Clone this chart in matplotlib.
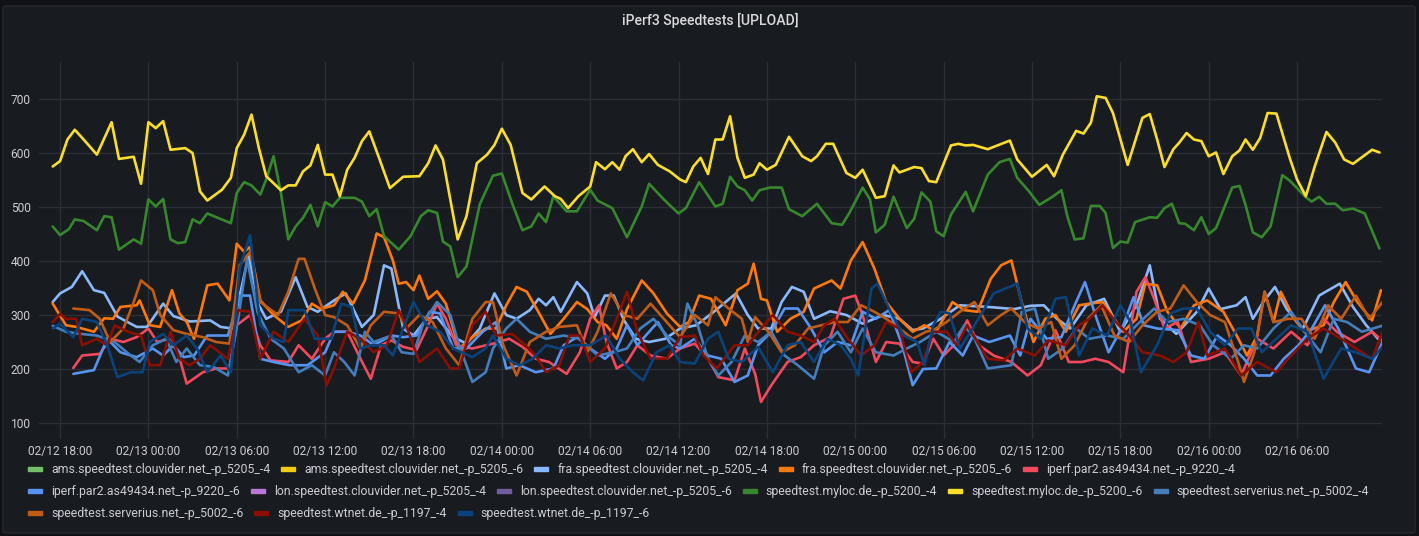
import matplotlib
matplotlib.use("Agg")
import matplotlib.pyplot as plt
import matplotlib.dates as mdates
from matplotlib.patches import Rectangle, FancyBboxPatch
import pandas as pd

W, H = 1419, 536

# hours after 02/12 18:00, upload in Mbit/s
myloc6_h = [-0.5, 0, 0.5, 1, 1.6, 2.5, 3.5, 4, 5, 5.5, 6, 6.5, 7, 7.5, 8.5, 9, 9.5, 10, 11, 11.6,
            12, 12.5, 13, 13.5, 14, 15, 15.5, 16, 16.5, 17, 17.5, 18, 18.5, 19, 19.5, 20, 20.5, 21,
            21.7, 22.4, 23.3, 24.4, 25, 25.5, 26, 27, 27.6, 28.3, 29, 29.5, 30, 30.6, 31.4, 32, 32.9,
            33.6, 34, 34.5, 35.2, 36, 36.4, 37, 37.5, 38, 38.4, 38.9, 39.5, 40, 40.6, 41.4, 42.1, 42.5,
            43, 43.5, 44, 44.5, 45, 45.5, 46, 46.5, 47.1, 47.5, 48, 48.6, 49.5, 50.4, 51, 51.4, 52,
            52.5, 53.4, 54, 54.5, 55.4, 56, 56.6, 57, 58, 58.5, 59, 59.5, 60.5, 61, 61.5, 62, 63, 64.5,
            65, 66, 67, 67.5, 68.1, 69, 69.5, 70, 70.4, 71, 71.5, 72.5, 73.5, 74, 74.5, 75, 75.6, 76,
            76.5, 77, 77.5, 78, 78.5, 79, 79.6, 80.1, 80.5, 81, 81.5, 82, 82.6, 83.5, 84, 84.6, 85.2,
            86, 86.6, 87.2, 87.8, 88.5, 89.1, 89.6]
myloc6_v = [575, 585, 625, 643, 625, 597, 657, 589, 593, 543, 657, 646, 659, 606, 609, 600, 529, 512, 532, 554,
            609, 634, 671, 609, 557, 531, 540, 540, 566, 577, 615, 560, 560, 520, 569, 591, 622, 640,
            588, 535, 556, 557, 581, 614, 588, 440, 483, 581, 597, 615, 645, 615, 526, 514, 538,
            520, 515, 498, 520, 538, 583, 570, 583, 569, 594, 607, 583, 598, 578, 566, 551, 546,
            575, 591, 561, 625, 625, 668, 591, 554, 560, 581, 569, 578, 630, 594, 585, 594, 617,
            617, 563, 554, 569, 517, 520, 577, 564, 574, 572, 548, 546, 614, 617, 614, 615, 607, 623,
            588, 556, 578, 557, 597, 641, 636, 656, 705, 702, 674, 578, 665, 672, 625, 574, 607, 619,
            637, 625, 622, 594, 601, 561, 594, 605, 625, 606, 628, 674, 673, 591, 551, 520, 575,
            639, 619, 588, 580, 594, 606, 601]

myloc4_h = [-0.5, 0, 0.6, 1, 1.6, 2.5, 3, 3.5, 4, 5, 5.5, 6, 6.5, 7, 7.5, 8, 8.5, 9, 9.5, 10, 11.6, 12,
            12.5, 13, 13.6, 14, 14.5, 15, 15.5, 16, 16.5, 17, 17.5, 18, 18.5, 19, 20, 20.5, 21, 21.5,
            22, 23, 23.8, 24.5, 25, 25.6, 26, 26.5, 27, 27.6, 28.5, 29.4, 30, 30.7, 31.4, 32, 32.5,
            33, 33.5, 34.4, 35.1, 36, 36.5, 37.5, 38.5, 39.5, 40, 41, 42, 42.5, 43.4, 44.5, 45, 45.5,
            46, 46.5, 47, 47.5, 48.2, 49, 49.5, 50.4, 51.4, 52.4, 53.1, 53.6, 54.5, 55, 55.4, 56,
            56.6, 57.5, 58, 58.5, 59.1, 59.5, 60, 60.5, 61.5, 62, 63, 63.8, 64.5, 65, 65.8, 66.5,
            67.4, 68, 68.4, 68.9, 69.5, 70, 70.6, 71, 71.5, 72, 72.5, 73, 74, 74.5, 75, 75.5, 76,
            76.4, 77, 77.5, 78, 78.5, 79.6, 80.1, 80.5, 81, 81.6, 82.2, 83, 83.5, 84, 84.6, 85, 85.5,
            86, 86.6, 87.1, 87.8, 88.6, 89.2, 89.6]
myloc4_v = [464, 448, 459, 477, 474, 457, 483, 481, 421, 440, 432, 514, 501, 515, 440, 433, 435, 477, 470, 488, 470, 526,
            546, 540, 523, 551, 594, 526, 440, 464, 480, 504, 464, 509, 501, 517, 517, 510, 483, 496,
            446, 421, 446, 483, 494, 489, 436, 427, 370, 390, 505, 558, 562, 507, 457, 464, 488,
            472, 520, 492, 492, 532, 512, 498, 444, 501, 543, 514, 488, 498, 546, 501, 506, 556,
            538, 531, 512, 531, 536, 536, 496, 483, 506, 470, 467, 489, 536, 514, 453, 467,
            519, 461, 478, 527, 510, 455, 446, 486, 528, 492, 560, 583, 589, 554, 529, 504,
            519, 531, 483, 440, 442, 502, 502, 489, 424, 436, 434, 472, 481, 480, 498, 506, 470,
            469, 457, 481, 450, 461, 536, 539, 504, 453, 444, 464, 559, 549, 535, 518, 510, 519,
            506, 506, 494, 497, 488, 449, 423]

fra4_h = [-0.5, 0, 0.8, 1.5, 2.3, 3, 3.9, 5.2, 5.9, 7, 7.7, 8.8, 10.2, 10.9, 11.7, 12.2, 12.8, 13.5, 14,
          15, 16, 16.8, 17.5, 18.6, 19.4, 20.5, 21.3, 22, 22.5, 23.3, 24, 24.9, 25.6, 26.7, 27.6, 28.5,
          29.5, 30.3, 31, 31.9, 32.5, 33, 33.5, 34, 35.1, 35.8, 36.3, 37, 37.6, 38.3, 39.1, 40, 41.1,
          42.1, 43.2, 44.4, 45.9, 46.7, 47.4, 48.3, 49, 49.7, 50.5, 51.2, 52.3, 53.4, 54.5, 55.9, 57,
          57.9, 58.6, 59.8, 61.1, 63, 64.8, 65.9, 66.8, 67.7, 68.6, 69.7, 70.9, 72, 73.1, 74, 74.7,
          75.8, 77.2, 78, 78.8, 79.9, 80.5, 81, 81.7, 82.5, 83.3, 84.4, 85.5, 86.9, 87.8, 88.7, 89.5]
fra4_v = [324, 340, 352, 381, 346, 341, 297, 278, 278, 321, 298, 288, 290, 278, 275, 336, 410, 318, 293,
          306, 370, 315, 306, 327, 340, 278, 300, 392, 386, 275, 262, 293, 296, 259, 247, 275,
          340, 300, 293, 309, 330, 318, 333, 306, 361, 340, 296, 336, 336, 290, 256, 250, 256,
          275, 281, 306, 340, 300, 275, 275, 324, 352, 343, 293, 307, 300, 284, 300, 293,
          272, 275, 293, 318, 315, 311, 317, 318, 293, 275, 318, 330, 269, 318, 392, 293,
          265, 306, 349, 311, 318, 333, 293, 324, 352, 311, 275, 336, 358, 315, 281, 256]

fra6_h = [-0.5, 0.4, 1.1, 2.3, 3, 3.6, 4.1, 5.2, 5.4, 6.1, 6.8, 7.6, 8.1, 8.6, 9.1, 9.5, 10, 10.7, 11.5,
          12, 12.5, 12.9, 13.6, 14.5, 15.5, 16.4, 17.1, 17.7, 18.6, 19.2, 19.9, 20.7, 21.5, 22, 22.6,
          23, 23.5, 24, 24.4, 25, 25.6, 26.2, 27.1, 28, 28.9, 29.6, 30.3, 31, 31.7, 32.6, 33.3, 34.2,
          35.1, 35.8, 36.5, 37.1, 37.8, 38.5, 39.5, 40.3, 41.2, 42.1, 42.7, 43.4, 44.2, 45.2, 46,
          46.7, 47.1, 47.6, 48, 48.7, 49.6, 50.5, 51.2, 52.4, 53, 53.7, 54.5, 55.3, 56.1, 57, 57.9,
          58.7, 59.5, 60.6, 61.4, 62.3, 63.2, 63.9, 64.6, 65.3, 66.1, 66.9, 67.6, 68.3, 69.2, 69.9,
          70.8, 72.2, 73.1, 73.7, 74.5, 75.2, 76.1, 77, 77.9, 79, 79.9, 80.6, 81.3, 81.8, 82.4, 82.9,
          83.8, 84.5, 85.8, 86.5, 87.3, 88.1, 89.1, 89.7]
fra6_v = [321, 281, 278, 269, 294, 293, 315, 318, 327, 281, 278, 346, 303, 287, 256, 300, 355, 358, 327,
          432, 417, 426, 327, 300, 278, 290, 321, 311, 318, 343, 321, 364, 451, 444, 401,
          358, 361, 346, 373, 330, 344, 321, 238, 259, 275, 275, 318, 352, 343, 300, 265, 293,
          324, 311, 287, 281, 256, 311, 364, 340, 303, 278, 287, 336, 330, 281, 346,
          358, 395, 330, 327, 269, 293, 306, 349, 364, 349, 401, 435, 386, 324, 293, 269,
          281, 269, 324, 309, 306, 367, 392, 401, 324, 250, 293, 300, 269, 318, 321,
          324, 269, 293, 358, 355, 306, 275, 318, 327, 306, 262, 225, 262, 343, 287, 343,
          293, 269, 281, 324, 361, 324, 290, 346]

iperf4_h = [0.9, 1.5, 2.7, 3.4, 4.3, 5.2, 6, 6.6, 7.4, 8, 8.6, 9.7, 10.6, 11.5, 12, 12.9, 13.6, 14.3, 15.5,
            16.2, 17.1, 18, 18.6, 19.5, 20.4, 21.1, 21.8, 22.5, 23.3, 24.2, 24.9, 25.6, 26.2, 26.9, 28,
            29.4, 30.5, 31.4, 32.3, 33.2, 34.4, 35.3, 36, 36.6, 37.1, 37.8, 38.5, 39.2, 40.1, 41.2,
            42.1, 43.1, 44, 44.7, 45.8, 46.5, 47.2, 47.6, 48.3, 49.4, 50.3, 51.2, 52.3, 53.2, 54, 54.5,
            55.4, 56.1, 57, 57.9, 58.6, 59.3, 60, 60.9, 61.6, 62.4, 63.4, 64.6, 65.7, 66.6, 67.6, 68.5,
            69.4, 70.3, 71.2, 72.2, 73.1, 73.7, 74.3, 75, 75.9, 76.8, 78, 79.1, 80.2, 81.3, 82.4, 83.6,
            84.7, 85.8, 86.7, 87.9, 89.1, 89.9]
iperf4_v = [202, 225, 228, 256, 250, 259, 275, 250, 256, 231, 173, 194, 201, 201, 281, 300, 244, 216, 213,
            244, 219, 256, 269, 269, 219, 182, 244, 253, 241, 235, 275, 321, 293, 244, 238,
            247, 256, 241, 219, 213, 191, 231, 293, 318, 250, 201, 213, 244, 225, 219,
            238, 247, 219, 185, 179, 238, 191, 139, 170, 213, 222, 244, 259, 330, 336, 300,
            213, 250, 247, 213, 210, 256, 225, 250, 290, 244, 225, 213, 188, 207, 272, 213,
            213, 219, 213, 194, 343, 370, 330, 275, 287, 213, 219, 231, 188, 256, 238, 269,
            244, 293, 269, 250, 269, 250]

iperf6_h = [0.9, 2.3, 3.2, 4.1, 5.2, 6.3, 7, 7.7, 8.4, 9.1, 10, 11.4, 12.2, 12.9, 13.6, 14.5, 15.6, 16.8,
            18, 18.6, 19.5, 20.4, 21.3, 22.5, 23.3, 24.2, 25.1, 25.8, 26.7, 27.6, 28.7, 29.6, 30.3,
            31.2, 32.3, 33.5, 34.2, 35.1, 36, 37, 37.8, 38.5, 39.2, 40, 40.6, 41.5, 42.1, 43.1, 44,
            44.9, 45.8, 46.7, 47.4, 48.3, 49.2, 50.1, 51, 51.9, 52.8, 53.7, 54.5, 55.4, 56.3, 57.2,
            57.9, 58.6, 59.5, 60.4, 61.3, 62, 63.1, 64.5, 65.2, 65.9, 67, 68, 68.9, 69.6, 70.3, 71.2,
            72.2, 72.9, 73.6, 74.5, 75.9, 76.8, 77.7, 78.6, 79.5, 80.4, 81.3, 82.2, 83.1, 84.1, 85,
            85.9, 86.8, 88, 88.9, 89.9]
iperf6_v = [191, 198, 256, 231, 222, 238, 225, 244, 222, 225, 262, 262, 336, 336, 219, 213, 207, 207,
            231, 269, 269, 262, 244, 262, 259, 262, 306, 303, 238, 238, 269, 287, 201,
            207, 194, 201, 244, 259, 238, 219, 238, 281, 244, 269, 287, 244, 238, 256, 225,
            219, 176, 188, 244, 269, 312, 312, 275, 231, 250, 244, 306, 293, 309, 244,
            170, 200, 201, 250, 225, 262, 250, 262, 225, 293, 256, 259, 318, 361, 300, 231,
            281, 333, 281, 275, 272, 225, 219, 262, 244, 219, 188, 188, 219, 244, 275,
            318, 275, 201, 194, 256]

serv4_h = [-0.5, 0.4, 1.4, 2.5, 3.7, 4.8, 5.4, 6.3, 7.2, 7.9, 8.6, 9.5, 10.4, 11.4, 12.1, 12.7, 13.4, 14.3,
           15.2, 16.2, 17.1, 18, 18.6, 19.3, 20, 20.7, 21.3, 22.5, 23.2, 24, 24.7, 25.6, 26.5, 27.1, 28,
           28.9, 29.4, 30.3, 31, 31.9, 33, 34.2, 35.3, 36.5, 37.6, 38.5, 39.4, 40.3, 41.2, 42.1, 42.6,
           43.3, 44, 44.7, 45.6, 46.5, 47.4, 48.3, 49.2, 50.1, 51.2, 51.9, 52.8, 53.7, 54.5, 55.4,
           56.6, 57.5, 58.4, 59.5, 60.7, 61.4, 62.1, 63, 64.6, 65.3, 66.2, 67.1, 68.1, 69, 69.9, 71.1,
           72.2, 73.1, 74.3, 75.2, 76.3, 77.4, 78.3, 79.5, 80.4, 81.3, 82.4, 83.6, 84.5, 85.6, 86.5,
           87.4, 88.4, 89.9]
serv4_v = [280, 269, 265, 262, 250, 225, 213, 244, 256, 213, 238, 207, 204, 188, 293, 404, 306, 256,
           238, 194, 207, 188, 231, 213, 188, 269, 250, 262, 231, 228, 287, 324, 300, 244, 176,
           194, 238, 275, 293, 269, 256, 262, 256, 225, 231, 238, 275, 293, 262, 244, 321,
           281, 219, 188, 213, 262, 250, 269, 225, 207, 182, 244, 269, 231, 275, 231,
           225, 238, 250, 269, 250, 281, 256, 201, 207, 306, 312, 219, 238, 275, 256, 262,
           256, 281, 312, 287, 293, 281, 244, 219, 244, 238, 275, 306, 269, 231, 293,
           287, 269, 281]

serv6_h = [0.9, 2, 2.7, 3.4, 4.3, 5, 5.5, 6.3, 6.8, 7.7, 8.6, 9.7, 10.6, 11.5, 12.2, 12.9, 13.6, 14.8, 15.5,
           16.2, 16.6, 17.3, 18, 18.6, 19.5, 20.4, 21.1, 22, 23, 23.5, 24.4, 25.3, 26.2, 27.1, 28, 28.9,
           29.4, 30.1, 31, 31.9, 33, 33.9, 35.1, 35.8, 36.5, 37.4, 38.3, 39.2, 40.1, 41, 42.1, 43.1, 44,
           44.5, 45.4, 46.3, 46.7, 47.2, 48.1, 49, 49.9, 50.8, 51.7, 52.6, 53.5, 54.4, 55.3, 56.1, 57,
           57.9, 58.8, 59.3, 60.2, 61.1, 62.1, 63, 63.9, 64.6, 65.5, 66.4, 67.3, 68, 68.9, 69.8, 70.7,
           71.6, 72.6, 73.5, 74.5, 75.4, 76.3, 77.2, 78.1, 79.1, 80, 80.4, 81.1, 81.8, 82.4, 83.4, 84.3,
           85.2, 86.1, 87, 88, 88.9, 89.9]
serv6_v = [312, 309, 293, 250, 275, 324, 364, 346, 300, 272, 265, 259, 250, 247, 392, 417, 324, 300, 343,
           404, 404, 349, 300, 296, 281, 238, 281, 306, 303, 275, 300, 287, 238, 207, 293, 324,
           324, 244, 188, 250, 269, 278, 281, 231, 269, 340, 300, 293, 321, 293, 259, 300, 281,
           333, 312, 293, 250, 296, 269, 231, 244, 275, 281, 287, 287, 318, 306, 293, 275,
           256, 269, 272, 287, 306, 324, 281, 300, 312, 287, 275, 287, 219, 244, 293, 318,
           262, 250, 281, 306, 312, 355, 324, 300, 287, 213, 176, 231, 343, 287, 293, 293,
           256, 318, 293, 336, 293, 327]

wt4_h = [-0.5, 0, 0.4, 1.1, 1.5, 2.5, 3.2, 3.7, 4.6, 5.5, 6.1, 6.8, 7.5, 8.1, 8.8, 9.5, 10.2, 11.4, 12.1,
         12.9, 13.6, 14.5, 15.5, 16.6, 17.5, 18.1, 18.6, 19.5, 20.4, 21.3, 22.2, 23, 23.5, 24.4, 25.6,
         26.5, 27.1, 28, 28.9, 29.6, 30.7, 31.6, 32.3, 33, 33.9, 34.6, 35.3, 36, 37, 37.8, 38.5, 39.2,
         40.1, 41.2, 42.1, 43.1, 43.7, 44.6, 45.8, 46.7, 47.6, 48.4, 49.4, 50.3, 51.2, 51.9, 52.6,
         53.5, 54.4, 55.3, 56.1, 57, 57.8, 58.6, 59.3, 60.2, 60.9, 61.6, 63, 64.1, 65, 66.2, 67.1,
         68.3, 69.2, 69.9, 70.8, 71.7, 72.6, 73.5, 74.7, 75.6, 76.5, 77.3, 77.9, 79.1, 80.2, 81.3,
         82.6, 83.6, 84.7, 85.8, 87, 88, 89.1, 89.9]
wt4_v = [287, 302, 293, 293, 244, 256, 244, 281, 269, 262, 207, 207, 269, 219, 207, 219, 244, 219, 309,
         306, 219, 269, 250, 293, 262, 170, 201, 269, 256, 231, 244, 309, 281, 213, 238,
         201, 201, 281, 306, 262, 265, 244, 225, 194, 207, 262, 262, 213, 238, 293, 343, 269,
         219, 219, 259, 262, 225, 201, 244, 244, 275, 300, 269, 262, 250, 281, 293,
         256, 225, 244, 287, 275, 194, 213, 269, 269, 244, 281, 219, 216, 238, 225, 253,
         244, 281, 293, 318, 287, 262, 231, 225, 213, 231, 287, 225, 238, 188, 213,
         194, 225, 256, 275, 256, 238, 219, 275]

wt6_h = [-0.5, 0, 0.9, 1.5, 2.5, 3.2, 3.9, 4.8, 5.6, 6.1, 7, 7.7, 8.6, 9.3, 10, 10.9, 11.6, 12.2, 12.9,
         13.6, 14.5, 15.2, 15.5, 16.6, 17.3, 18.4, 19.1, 19.8, 20.4, 21.1, 22, 22.6, 23.3, 24, 24.9,
         25.8, 26.7, 28, 28.9, 29.4, 30.3, 31.2, 32.1, 33, 33.9, 34.8, 36, 37.1, 38, 38.9, 39.6, 40.5,
         41.4, 42.1, 43.1, 44, 44.7, 45.4, 46.3, 47.4, 48.4, 49.4, 50.3, 51.2, 52.1, 53, 53.7, 54.2,
         55.1, 55.5, 56.4, 57.3, 58.2, 58.7, 59.3, 59.8, 60.4, 61.1, 62.1, 63.4, 65, 65.7, 66.6, 67.6,
         68.3, 69.2, 70.1, 71.1, 72, 72.7, 73.4, 74.5, 75.4, 76.3, 77.2, 78.1, 79.1, 80, 80.9, 81.6,
         82.6, 83.6, 84.7, 85.8, 87, 88, 89.1, 89.9]
wt6_v = [275, 284, 259, 293, 287, 244, 185, 194, 194, 250, 265, 244, 262, 238, 194, 225, 194, 386, 448,
         281, 256, 250, 309, 309, 256, 256, 321, 315, 238, 244, 244, 225, 275, 324, 281,
         269, 238, 222, 238, 262, 219, 207, 219, 244, 238, 244, 244, 262, 219, 194, 179, 231,
         244, 213, 210, 256, 269, 219, 213, 241, 194, 244, 250, 213, 256, 244, 219, 188,
         349, 358, 306, 262, 250, 207, 281, 306, 303, 238, 281, 340, 358, 275, 256, 330,
         333, 225, 275, 262, 318, 287, 194, 244, 303, 312, 312, 269, 244, 275, 275, 231,
         256, 281, 269, 182, 238, 231, 219, 244]

names = ["ams.speedtest.clouvider.net_-p_5205_-4", "ams.speedtest.clouvider.net_-p_5205_-6",
         "fra.speedtest.clouvider.net_-p_5205_-4", "fra.speedtest.clouvider.net_-p_5205_-6",
         "iperf.par2.as49434.net_-p_9220_-4", "iperf.par2.as49434.net_-p_9220_-6",
         "lon.speedtest.clouvider.net_-p_5205_-4", "lon.speedtest.clouvider.net_-p_5205_-6",
         "speedtest.myloc.de_-p_5200_-4", "speedtest.myloc.de_-p_5200_-6",
         "speedtest.serverius.net_-p_5002_-4", "speedtest.serverius.net_-p_5002_-6",
         "speedtest.wtnet.de_-p_1197_-4", "speedtest.wtnet.de_-p_1197_-6"]
colors = ["#73BF69", "#F2CC0C", "#8AB8FF", "#FF780A", "#F2495C", "#5794F2", "#B877D9",
          "#705DA0", "#37872D", "#FADE2A", "#447EBC", "#C15C17", "#890F02", "#0A437C"]
# ams and lon returned no data in this window
hours = [None, None, fra4_h, fra6_h, iperf4_h, iperf6_h, None, None,
         myloc4_h, myloc6_h, serv4_h, serv6_h, wt4_h, wt6_h]
values = [None, None, fra4_v, fra6_v, iperf4_v, iperf6_v, None, None,
          myloc4_v, myloc6_v, serv4_v, serv6_v, wt4_v, wt6_v]
legend_rows = [[0, 1, 2, 3, 4], [5, 6, 7, 8, 9, 10], [11, 12, 13]]

start = pd.Timestamp("2021-02-12 18:00")

plt.rcParams["font.family"] = ["Roboto", "DejaVu Sans"]
TXT = "#ccccd4"
PX = 72 / 100

fig = plt.figure(figsize=(W / 100, H / 100), dpi=100, facecolor="#111217")
panel = FancyBboxPatch((3 / W, 3 / H), 1412 / W, 527 / H,
                       boxstyle="round,pad=0,rounding_size=0.003",
                       transform=fig.transFigure, facecolor="#181b1f",
                       edgecolor="#25282d", linewidth=1, zorder=-5)
fig.patches.append(panel)

ax = fig.add_axes([39 / W, 1 - 439 / H, 1343 / W, 377 / H], zorder=2)
ax.set_facecolor("none")

for h, v, c in zip(hours, values, colors):
    if h is None:
        continue
    assert len(h) == len(v)
    t = start + pd.to_timedelta(h, unit="h")
    ax.plot(t, v, color=c, lw=1.9, solid_joinstyle="round", solid_capstyle="round")

ax.set_xlim(start + pd.Timedelta(hours=-1.43), start + pd.Timedelta(hours=89.77))
ax.set_ylim(70.4, 768.5)
ax.set_yticks([100, 200, 300, 400, 500, 600, 700])
ax.xaxis.set_major_locator(mdates.HourLocator(byhour=[0, 6, 12, 18]))
ax.xaxis.set_major_formatter(mdates.DateFormatter("%m/%d %H:%M"))
ax.grid(True, color="#2c2f35", lw=1)
ax.set_axisbelow(True)
for s in ax.spines.values():
    s.set_visible(False)
ax.tick_params(length=0, labelsize=12 * PX, colors=TXT)
ax.tick_params(axis="y", pad=6)
ax.tick_params(axis="x", pad=4)

fig.text(710 / W, 1 - 20 / H, "iPerf3 Speedtests [UPLOAD]", ha="center", va="center",
         fontsize=14 * PX, color="#d8d9da", fontweight="medium")

# grafana style flowing legend
fig.canvas.draw()
rend = fig.canvas.get_renderer()
for r, row in enumerate(legend_rows):
    x = 28
    y = 469 + r * 22
    for i in row:
        fig.patches.append(Rectangle((x / W, 1 - (y + 2) / H), 14 / W, 4 / H,
                                     transform=fig.transFigure, color=colors[i], zorder=1))
        txt = fig.text((x + 23) / W, 1 - y / H, names[i], ha="left", va="center",
                       fontsize=12.2 * PX, color=TXT)
        x += 23 + txt.get_window_extent(rend).width + 11

fig.savefig("out.png", dpi=100, facecolor=fig.get_facecolor())
